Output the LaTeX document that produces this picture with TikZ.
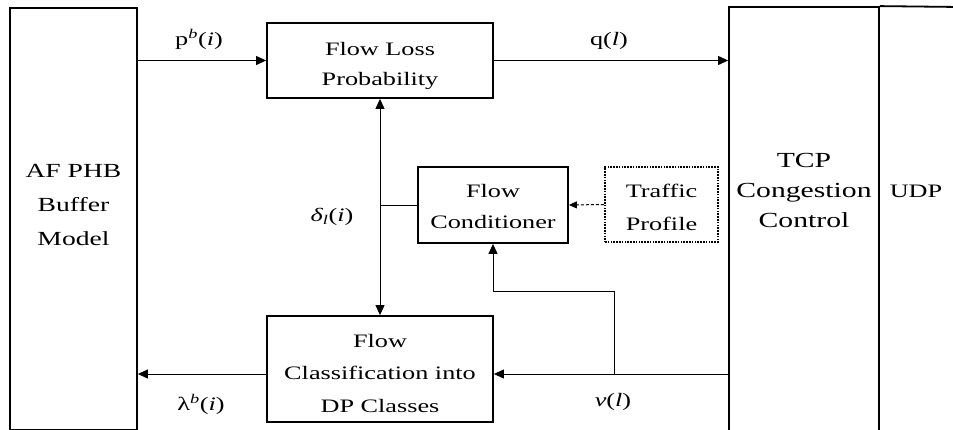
\documentclass[tikz,border=0pt]{standalone}
\usepackage{fontspec}
\setmainfont{Liberation Serif}[FakeStretch=1.38]
\usetikzlibrary{arrows.meta}
\tikzset{
  blk/.style={draw, line width=1.8pt, rectangle, inner sep=0pt},
  dotblk/.style={draw, line width=2.2pt, dash pattern=on 1.6pt off 1.2pt, rectangle, inner sep=0pt},
  lbl/.style={anchor=base, align=center, inner sep=0pt},
  arr/.style={line width=1pt, -{Triangle[length=10pt,width=9pt]}},
  biarr/.style={line width=1pt, {Triangle[length=10pt,width=9pt]}-{Triangle[length=10pt,width=9pt]}},
  wire/.style={line width=1pt},
}
\newcommand{\fs}[2]{\fontsize{#1}{#2}\selectfont}
\begin{document}
\begin{tikzpicture}[x=1pt,y=-1pt]
\path[use as bounding box, clip] (0,0) rectangle (953,429);

% blocks
\node[blk, minimum width=127pt, minimum height=422pt] (af) at (73.5,219) {};
\node[blk, minimum width=226pt, minimum height=75pt] (flp) at (380,60.5) {};
\node[blk, minimum width=150pt, minimum height=76pt] (fc) at (493,205) {};
\node[dotblk, minimum width=113pt, minimum height=75pt] (tp) at (661.5,204.5) {};
\node[blk, minimum width=226pt, minimum height=106pt] (fcl) at (380,369) {};
\node[blk, minimum width=150pt, minimum height=424pt] (tcp) at (804,219) {};
\draw[line width=1.8pt] (tcp.north east) -- (960,7);

% block texts (placed by the baseline of their last line)
\node[lbl, font=\fs{20}{34}] (aft) at (73.5,245) {AF PHB\\Buffer\\Model};
\node[lbl, font=\fs{19}{30}] (flpt) at (380,85) {Flow Loss\\Probability};
\node[lbl, font=\fs{19}{31}] (fct) at (493,228) {Flow\\Conditioner};
\node[lbl, font=\fs{19}{33}] (tpt) at (661.5,230) {Traffic\\Profile};
\node[lbl, font=\fs{19}{32.5}] (fclt) at (380,412) {Flow\\Classification into\\DP Classes};
\node[lbl, font=\fs{21.5}{30}] (tcpt) at (804,227) {TCP\\Congestion\\Control};
\node[lbl, font=\fs{19}{22}] (udpt) at (916,197) {UDP};

% connectors
\draw[arr] (af.east |- flp.west) -- (flp.west);
\draw[arr] (flp.east) -- (flp.east -| tcp.west);
\draw[biarr] (flp.south) -- (fcl.north);
\draw[wire] (fc.west) -- (fc.west -| flp.south);
\draw[line width=1pt, dash pattern=on 3pt off 2pt, -{Triangle[length=8pt,width=7pt]}] (tp.west) -- (fc.east);
\coordinate (lamout) at ([yshift=-5pt]fcl.west);
\coordinate (nuin) at ([yshift=-5pt]fcl.east);
\draw[arr] (lamout) -- (lamout -| af.east);
\draw[arr] (nuin -| tcp.west) -- (nuin);
\coordinate (br) at (614,374);
\draw[arr] (br) -- ++(0,-83) -| (fc.south);

% signal labels
\node[lbl, font=\fs{19}{22}] (pb) at (199,45) {p\textsuperscript{\textit{b}}(\textit{i})};
\node[lbl, font=\fs{19}{22}] (ql) at (609,45) {q(\textit{l})};
\node[lbl, font=\fs{19}{22}] (dl) at (332,221) {\textit{δ\textsubscript{l}}(\textit{i})};
\node[lbl, font=\fs{19}{22}] (lb) at (201,410) {λ\textsuperscript{\textit{b}}(\textit{i})};
\node[lbl, font=\fs{19}{22}] (nl) at (613,406) {\textit{ν}(\textit{l})};
\end{tikzpicture}
\end{document}
